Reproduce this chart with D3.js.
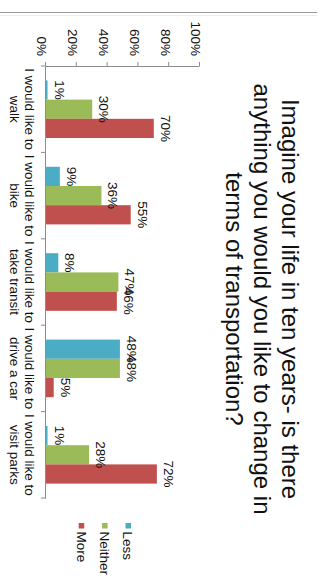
<!DOCTYPE html>
<html>
<head>
<meta charset="utf-8">
<script src="https://cdn.jsdelivr.net/npm/d3@7"></script>
<style>
  html, body { margin: 0; padding: 0; background: #fff; }
  svg { display: block; }
  text { font-family: "Liberation Sans", Arial, Helvetica, sans-serif; fill: #111; }
</style>
</head>
<body>
<script>
// Survey answers, percent of respondents
const categories = [
  "I would like to walk",
  "I would like to bike",
  "I would like to take transit",
  "I would like to drive a car",
  "I would like to visit parks"
];
const seriesNames = ["Less", "Neither", "More"];
const lessValues = [1, 9, 8, 48, 1];
const neitherValues = [30, 36, 47, 48, 28];
const moreValues = [70, 55, 46, 5, 72];
const tickValues = [0, 20, 40, 60, 80, 100];
const titleLines = [
  "Imagine your life in ten years- is there",
  "anything you would you like to change in",
  "terms of transportation?"
];

const colors = { Less: "#4BACC6", Neither: "#9BBB59", More: "#C0504D" };
const seriesValues = { Less: lessValues, Neither: neitherValues, More: moreValues };

const W = 322, H = 584;
const svg = d3.select("body").append("svg").attr("width", W).attr("height", H);

// thin frame line along the top edge
svg.append("line").attr("x1", 0).attr("x2", 317).attr("y1", 12.5).attr("y2", 12.5)
  .attr("stroke", "#9a9a9a").attr("stroke-width", 1.2);
svg.append("line").attr("x1", 0).attr("x2", 317).attr("y1", 15.5).attr("y2", 15.5)
  .attr("stroke", "#ececec").attr("stroke-width", 1);

// the chart is laid out in a 584 x 322 frame and turned a quarter turn clockwise
const g = svg.append("g").attr("transform", `translate(${W},0) rotate(90)`);

const y = d3.scaleLinear().domain([0, 100]).range([276, 122]);
const x0 = d3.scaleBand().domain(categories).range([66, 498]);
const x1 = d3.scaleBand().domain(seriesNames).range([0, x0.bandwidth()])
  .paddingInner(0).paddingOuter(0.75);

// title
g.append("g").selectAll("text").data(titleLines).join("text")
  .attr("x", 299).attr("y", (d, i) => 40 + i * 28)
  .attr("text-anchor", "middle").style("font-size", "24px")
  .text(d => d);

// value axis
const yAxis = g.append("g").attr("transform", "translate(66,0)")
  .call(d3.axisLeft(y).tickValues(tickValues).tickSize(4).tickSizeOuter(0).tickPadding(6)
    .tickFormat(d => d + "%"));
yAxis.select(".domain").attr("stroke", "#8c8c8c");
yAxis.selectAll(".tick line").attr("stroke", "#8c8c8c");
yAxis.selectAll(".tick text").attr("dy", "0.6em").style("font-size", "13.5px")
  .attr("fill", "#111").attr("font-family", null);

// bars
const groups = g.append("g").selectAll("g").data(categories).join("g")
  .attr("transform", d => `translate(${x0(d)},0)`);

const barData = (c, i) => seriesNames.map(s => ({ s, v: seriesValues[s][i] }));

groups.selectAll("rect").data(barData).join("rect")
  .attr("x", d => x1(d.s)).attr("width", x1.bandwidth())
  .attr("y", d => y(d.v)).attr("height", d => y(0) - y(d.v))
  .attr("fill", d => colors[d.s]);

groups.selectAll("text.val").data(barData).join("text").attr("class", "val")
  .attr("x", d => x1(d.s) + x1.bandwidth() / 2).attr("y", d => y(d.v) - 7)
  .attr("text-anchor", "middle").style("font-size", "13.5px")
  .text(d => d.v + "%");

// category axis with ticks between groups
const xAxis = g.append("g").attr("transform", `translate(0,${y(0)})`)
  .call(d3.axisBottom(x0).tickSize(0).tickSizeOuter(0).tickFormat(""));
xAxis.select(".domain").attr("stroke", "#8c8c8c");
const bounds = [x0(categories[0])].concat(categories.map(c => x0(c) + x0.bandwidth()));
xAxis.selectAll("line.sep").data(bounds).join("line").attr("class", "sep")
  .attr("x1", d => d).attr("x2", d => d).attr("y1", 0).attr("y2", 5)
  .attr("stroke", "#8c8c8c");

const labels = xAxis.selectAll("text.cat").data(categories).join("text").attr("class", "cat")
  .attr("text-anchor", "middle").style("font-size", "13.5px")
  .attr("transform", d => `translate(${x0(d) + x0.bandwidth() / 2},0)`);
labels.selectAll("tspan").data(d => {
    const k = d.indexOf(" to ") + 3;
    return [d.slice(0, k), d.slice(k + 1)];
  }).join("tspan")
  .attr("x", 0).attr("y", (d, i) => 21 + i * 15).text(d => d);

// legend
const legend = g.append("g").selectAll("g").data(seriesNames).join("g")
  .attr("transform", (d, i) => `translate(523,${191 + i * 23.4})`);
legend.append("rect").attr("width", 5.5).attr("height", 5.5).attr("fill", d => colors[d]);
legend.append("text").attr("x", 8.5).attr("y", 7.6).style("font-size", "13.5px").text(d => d);
</script>
</body>
</html>
